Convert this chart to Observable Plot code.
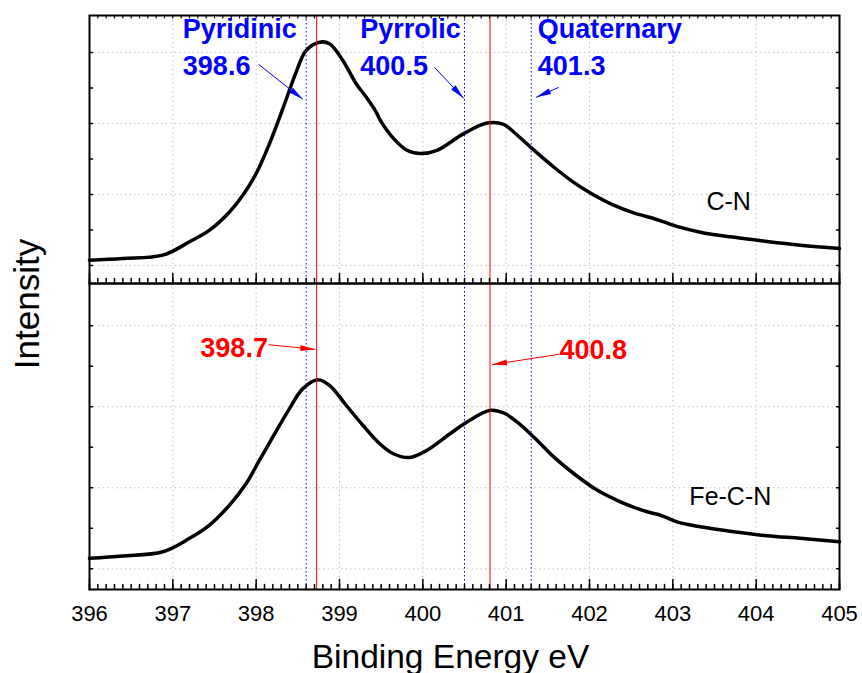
<!DOCTYPE html>
<html>
<head>
<meta charset="utf-8">
<script src="https://cdn.jsdelivr.net/npm/d3@7"></script>
<script src="https://cdn.jsdelivr.net/npm/@observablehq/plot@0.6"></script>
<style>
  body { margin: 0; background: #fff; }
  #chart { position: relative; width: 862px; height: 673px; font-family: Arial, "Liberation Sans", sans-serif; }
  #chart svg { position: absolute; left: 0; }
  #ylab { position: absolute; left: 27px; top: 304px; transform: translate(-50%, -50%) rotate(-90deg);
          font-size: 35px; white-space: nowrap; color: #000; }
</style>
</head>
<body>
<div id="chart"><div id="ylab">Intensity</div></div>
<script>
// ---------------- data ----------------
// C-N spectrum (binding energy eV, intensity a.u.)
const cnEnergy = [396.00, 396.40, 396.88, 397.20, 397.44, 397.68, 397.84, 398.00, 398.16, 398.32, 398.48, 398.60,
  398.76, 398.88, 399.04, 399.20, 399.32, 399.44, 399.49, 399.65, 399.81, 399.97, 400.17, 400.49, 400.77, 400.97,
  401.09, 401.29, 401.57, 401.81, 402.01, 402.29, 402.53, 402.77, 402.89, 403.07, 403.33, 403.69, 404.01, 404.53, 405.00];
const cnIntensity = [1.074, 1.098, 1.144, 1.332, 1.496, 1.753, 1.988, 2.294, 2.716, 3.208, 3.723, 4.028,
  4.144, 4.122, 3.887, 3.559, 3.371, 3.160, 3.043, 2.786, 2.621, 2.575, 2.621, 2.856, 3.005, 2.987,
  2.879, 2.668, 2.386, 2.170, 2.020, 1.848, 1.739, 1.661, 1.613, 1.542, 1.468, 1.402, 1.355, 1.285, 1.239];

// Fe-C-N spectrum
const fecnEnergy = [396.00, 396.40, 396.88, 397.20, 397.44, 397.68, 397.88, 398.04, 398.20, 398.40, 398.56, 398.74,
  398.88, 399.08, 399.28, 399.48, 399.64, 399.84, 400.05, 400.33, 400.53, 400.81, 400.97, 401.13, 401.33, 401.57,
  401.81, 402.09, 402.37, 402.69, 402.85, 403.05, 403.33, 403.73, 404.13, 404.53, 405.00];
const fecnIntensity = [1.130, 1.158, 1.211, 1.376, 1.540, 1.786, 2.053, 2.340, 2.627, 2.977, 3.223, 3.334,
  3.264, 3.018, 2.771, 2.546, 2.423, 2.373, 2.463, 2.669, 2.812, 2.956, 2.923, 2.812, 2.627, 2.381,
  2.176, 1.971, 1.827, 1.704, 1.663, 1.580, 1.519, 1.457, 1.408, 1.376, 1.334];

const sampleNames = ["C-N", "Fe-C-N"];
const sampleLabelEnergy = [403.67, 403.69];
const sampleLabelIntensity = [1.777, 1.786];

// reference peak positions
const bluePeaks = [398.6, 400.5, 401.3];      // Pyridinic, Pyrrolic, Quaternary
const redPeaks = [398.72, 400.8];             // fitted peaks

// blue annotations (top panel)
const blueLabelText = ["Pyridinic\n398.6", "Pyrrolic\n400.5", "Quaternary\n401.3"];
const blueLabelEnergy = [397.12, 399.25, 401.38];
const blueLabelIntensity = [3.676, 3.676, 3.676];
const blueArrowEnergy1 = [398.03, 400.14, 401.63];
const blueArrowIntensity1 = [3.831, 3.789, 3.507];
const blueArrowEnergy2 = [398.56, 400.49, 401.36];
const blueArrowIntensity2 = [3.339, 3.353, 3.367];

// red annotations (bottom panel)
const redLabelText = ["398.7", "400.8"];
const redLabelEnergy = [397.33, 401.64];
const redLabelIntensity = [3.609, 3.584];
const redArrowEnergy1 = [398.15, 401.63];
const redArrowIntensity1 = [3.765, 3.646];
const redArrowEnergy2 = [398.71, 400.83];
const redArrowIntensity2 = [3.707, 3.519];

// axes
const xTickLabels = [396, 397, 398, 399, 400, 401, 402, 403, 404, 405];
const yGridValues = [1, 2, 3, 4];
const yTickValues = [1, 1.5, 2, 2.5, 3, 3.5, 4];
const xDomain = [396, 405];
const yDomain = [0.745, 4.52];
const xAxisTitle = "Binding Energy eV";

// ---------------- build ----------------
const xMinor = d3.range(3960, 4051).map(d => d / 10);
const zip = (a, b) => a.map((e, i) => ({energy: e, intensity: b[i]}));
const cn = zip(cnEnergy, cnIntensity);
const fecn = zip(fecnEnergy, fecnIntensity);
const blueLabels = blueLabelText.map((t, i) => ({text: t, energy: blueLabelEnergy[i], intensity: blueLabelIntensity[i]}));
const blueArrows = blueArrowEnergy1.map((e, i) => ({x1: e, y1: blueArrowIntensity1[i], x2: blueArrowEnergy2[i], y2: blueArrowIntensity2[i]}));
const redLabels = redLabelText.map((t, i) => ({text: t, energy: redLabelEnergy[i], intensity: redLabelIntensity[i]}));
const redArrows = redArrowEnergy1.map((e, i) => ({x1: e, y1: redArrowIntensity1[i], x2: redArrowEnergy2[i], y2: redArrowIntensity2[i]}));
const samples = sampleNames.map((t, i) => ({text: t, energy: sampleLabelEnergy[i], intensity: sampleLabelIntensity[i]}));

const FONT = "Arial, 'Liberation Sans', sans-serif";
const tickShape = {draw(context, l) { context.moveTo(0, 0); context.lineTo(0, -l); }};

function head(color) {
  const m = d3.create("svg:marker")
    .attr("viewBox", "-15 -3 15 6")
    .attr("markerWidth", 15).attr("markerHeight", 6)
    .attr("markerUnits", "userSpaceOnUse")
    .attr("refX", 0).attr("refY", 0)
    .attr("orient", "auto")
    .attr("overflow", "visible");
  m.append("path").attr("d", "M-15,-3L0,0L-15,3Z").attr("fill", color).attr("stroke", "none");
  return m.node();
}

function frameMarks(withTopTicks) {
  const ymin = () => yDomain[0], ymax = () => yDomain[1];
  const marks = [
    Plot.vector(xMinor, {x: d => d, y: ymin, length: 5, rotate: 0, anchor: "start", shape: tickShape, stroke: "black", strokeWidth: 1.5}),
    Plot.vector(xTickLabels, {x: d => d, y: ymin, length: 10, rotate: 0, anchor: "start", shape: tickShape, stroke: "black", strokeWidth: 1.5}),
    Plot.vector(yTickValues, {x: () => xDomain[0], y: d => d, length: 3, rotate: 90, anchor: "start", shape: tickShape, stroke: "black", strokeWidth: 1.5}),
    Plot.vector(yTickValues, {x: () => xDomain[1], y: d => d, length: 3, rotate: -90, anchor: "start", shape: tickShape, stroke: "black", strokeWidth: 1.5})
  ];
  if (withTopTicks) marks.push(Plot.vector(xMinor, {x: d => d, y: ymax, length: 2.5, rotate: 180, anchor: "start", shape: tickShape, stroke: "black", strokeWidth: 1.2}));
  marks.push(Plot.frame({stroke: "black", strokeWidth: 2}));
  return marks;
}

function commonMarks(data) {
  return [
    Plot.gridX(xTickLabels, {stroke: "#c4c4c4", strokeOpacity: 1, strokeDasharray: "1.5,3"}),
    Plot.gridY(yGridValues, {stroke: "#c4c4c4", strokeOpacity: 1, strokeDasharray: "1.5,3"}),
    Plot.line(data, {x: "energy", y: "intensity", stroke: "black", strokeWidth: 3.5, curve: "catmull-rom"}),
    Plot.ruleX(bluePeaks, {stroke: "blue", strokeWidth: 1, strokeDasharray: "1.5,2.5"}),
    Plot.ruleX(redPeaks, {stroke: "red", strokeWidth: 1, dx: 0.5})
  ];
}

const STYLE = `background: transparent; overflow: visible; font-family: ${FONT}; color: black;`;

const topPlot = Plot.plot({
  width: 862, height: 290,
  marginLeft: 89, marginRight: 23, marginTop: 15, marginBottom: 7,
  x: {domain: xDomain, axis: null},
  y: {domain: yDomain, axis: null},
  style: STYLE,
  marks: [
    ...commonMarks(cn),
    Plot.link(blueArrows, {x1: "x1", y1: "y1", x2: "x2", y2: "y2", stroke: "blue", strokeWidth: 1, markerEnd: head}),
    Plot.text(blueLabels, {x: "energy", y: "intensity", text: "text", fill: "blue", fontWeight: "bold", fontSize: 27,
      fontFamily: FONT, textAnchor: "start", lineAnchor: "bottom", lineHeight: 1.37}),
    Plot.text([samples[0]], {x: "energy", y: "intensity", text: "text", fill: "black", fontSize: 25, fontFamily: FONT,
      textAnchor: "middle", lineAnchor: "bottom"}),
    ...frameMarks(true)
  ]
});

const bottomPlot = Plot.plot({
  width: 862, height: 397,
  marginLeft: 89, marginRight: 23, marginTop: 7, marginBottom: 84,
  x: {domain: xDomain, axis: null},
  y: {domain: yDomain, axis: null},
  style: STYLE,
  marks: [
    ...commonMarks(fecn),
    Plot.link(redArrows, {x1: "x1", y1: "y1", x2: "x2", y2: "y2", stroke: "red", strokeWidth: 1, markerEnd: head}),
    Plot.text(redLabels, {x: "energy", y: "intensity", text: "text", fill: "red", fontWeight: "bold", fontSize: 27,
      fontFamily: FONT, textAnchor: "start", lineAnchor: "bottom"}),
    Plot.text([samples[1]], {x: "energy", y: "intensity", text: "text", fill: "black", fontSize: 25, fontFamily: FONT,
      textAnchor: "middle", lineAnchor: "bottom"}),
    Plot.text(xTickLabels, {x: d => d, text: d => String(d), frameAnchor: "bottom", lineAnchor: "top", dy: 16,
      fontSize: 22, fontFamily: FONT, fill: "black"}),
    Plot.text([xAxisTitle], {text: d => d, frameAnchor: "bottom", lineAnchor: "bottom", dy: 78, dx: -14,
      fontSize: 33.5, fontFamily: FONT, fill: "black"}),
    ...frameMarks(false)
  ]
});

topPlot.style.top = "0px";
bottomPlot.style.top = "276px";
const chart = document.getElementById("chart");
chart.appendChild(topPlot);
chart.appendChild(bottomPlot);
</script>
</body>
</html>
